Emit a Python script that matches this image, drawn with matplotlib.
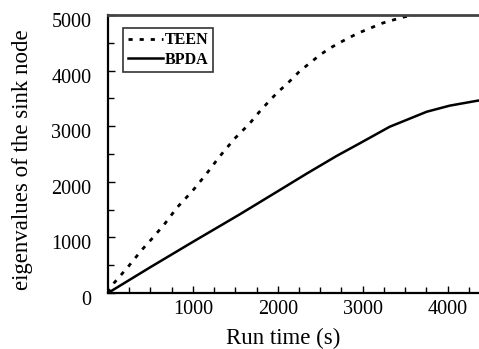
import matplotlib
matplotlib.use("Agg")
import matplotlib.pyplot as plt
from matplotlib.ticker import MultipleLocator
import matplotlib.transforms as mtransforms

plt.rcParams['font.family'] = ['Liberation Serif', 'DejaVu Serif']

teen_x = [0, 71, 236, 401, 508, 661, 815, 992, 1157, 1310, 1488, 1665, 1806, 1983,
          2137, 2255, 2373, 2491, 2609, 2763, 2940, 3235, 3471, 3707, 3850]
teen_y = [0, 180, 470, 780, 960, 1230, 1540, 1830, 2138, 2446, 2772, 3043, 3300, 3587,
          3804, 3985, 4130, 4275, 4400, 4530, 4670, 4855, 4960, 5030, 5080]

bpda_x = [0, 500, 1000, 1547, 2000, 2338, 2692, 2963, 3318, 3754, 4026, 4357, 4400]
bpda_y = [0, 465, 920, 1410, 1830, 2145, 2464, 2690, 2990, 3260, 3370, 3460, 3465]

x_ticks = [1000, 2000, 3000, 4000]
y_ticks = [0, 1000, 2000, 3000, 4000, 5000]

fig = plt.figure(figsize=(4.79, 3.49), dpi=100)
ax = fig.add_axes([0.2255, 0.1605, 0.7745, 0.7965])

ax.plot(teen_x, teen_y, color='black', lw=2.0, linestyle=(0, (1.5, 2.5)), label='TEEN')
ax.plot(bpda_x, bpda_y, color='black', lw=1.8, linestyle='-', label='BPDA')

ax.set_xlim(0, 4370)
ax.set_ylim(0, 5000)
ax.set_xticks(x_ticks)
ax.set_yticks(y_ticks)
ax.xaxis.set_minor_locator(MultipleLocator(250))
ax.yaxis.set_minor_locator(MultipleLocator(500))
ax.tick_params(which='both', direction='in', top=False, right=False, labelsize=14.5, width=1.0)
ax.tick_params(which='major', length=5)
ax.tick_params(which='minor', length=4)
ax.tick_params(axis='y', pad=12)
ax.tick_params(axis='x', pad=5)

offset = mtransforms.ScaledTranslation(0, -5 / 100, fig.dpi_scale_trans)
for lab in ax.get_yticklabels():
    lab.set_transform(lab.get_transform() + offset)

for s in ['left', 'bottom']:
    ax.spines[s].set_linewidth(1.6)
    ax.spines[s].set_color('black')
ax.spines['top'].set_linewidth(2.0)
ax.spines['top'].set_color('#444444')
ax.spines['right'].set_visible(False)

ax.set_xlabel('Run time (s)', fontsize=16.5)
ax.set_ylabel('eigenvalues of the sink node', fontsize=16.5)
ax.xaxis.set_label_coords(0.473, -0.125, transform=ax.transAxes)
ax.xaxis.label.set_va('top')
ax.yaxis.set_label_coords(-0.202, 0.48, transform=ax.transAxes)

leg = ax.legend(loc='upper left', bbox_to_anchor=(0.04, 0.955), prop={'weight': 'bold', 'size': 11.5},
                frameon=True, fancybox=False, edgecolor='black', handlelength=2.2,
                handletextpad=0.1, labelspacing=0.2, borderpad=0.3, borderaxespad=0)
leg.get_frame().set_linewidth(1.2)

fig.savefig('out.png', dpi=100)
